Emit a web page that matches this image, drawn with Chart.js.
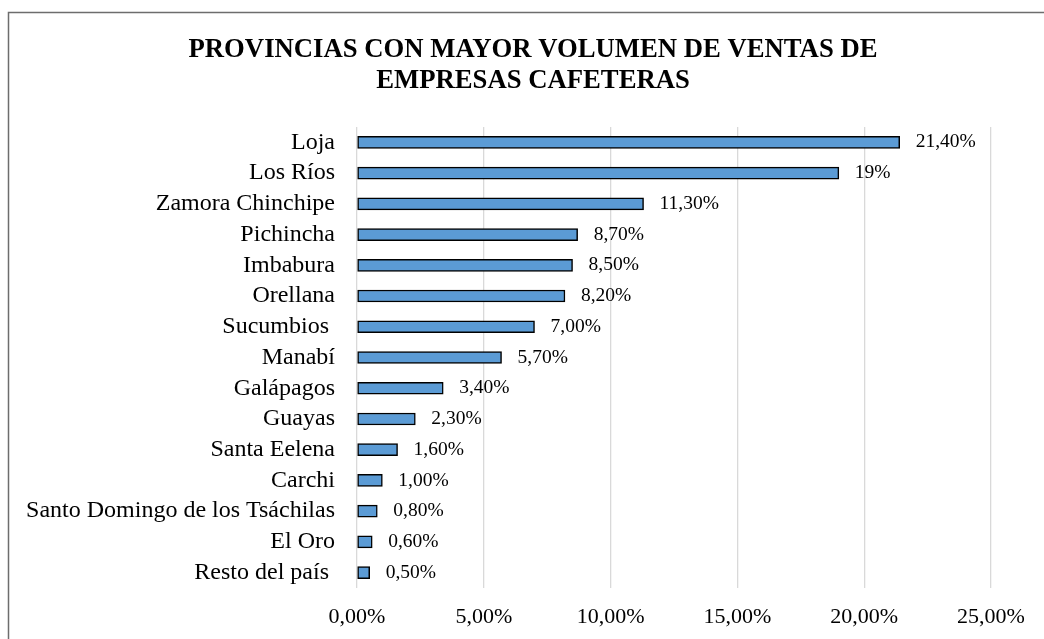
<!DOCTYPE html>
<html>
<head>
<meta charset="utf-8">
<script src="https://cdn.jsdelivr.net/npm/chart.js@4"></script>
<style>
  html, body { margin: 0; padding: 0; background: #fff; }
  canvas { display: block; }
</style>
</head>
<body>
<canvas id="myChart" width="1044" height="639"></canvas>
<script>
const provincias = ["Loja", "Los Ríos", "Zamora Chinchipe", "Pichincha", "Imbabura", "Orellana", "Sucumbios ",
  "Manabí", "Galápagos", "Guayas", "Santa Eelena", "Carchi", "Santo Domingo de los Tsáchilas", "El Oro", "Resto del país "];
const ventas = [21.4, 19, 11.3, 8.7, 8.5, 8.2, 7.0, 5.7, 3.4, 2.3, 1.6, 1.0, 0.8, 0.6, 0.5];
const etiquetas = ["21,40%", "19%", "11,30%", "8,70%", "8,50%", "8,20%", "7,00%", "5,70%", "3,40%", "2,30%",
  "1,60%", "1,00%", "0,80%", "0,60%", "0,50%"];
const titulo = ["PROVINCIAS CON MAYOR VOLUMEN DE VENTAS DE", "EMPRESAS CAFETERAS"];

const serif = "'Liberation Serif', 'Times New Roman', serif";

// fondo, marco y título
const marco = {
  id: "marco",
  beforeDraw(chart) {
    const ctx = chart.ctx;
    ctx.save();
    ctx.fillStyle = "#fff";
    ctx.fillRect(0, 0, chart.width, chart.height);
    ctx.strokeStyle = "#6d6d6d";
    ctx.lineWidth = 1.5;
    ctx.strokeRect(8.5, 12.5, 2000, 2000);
    ctx.restore();
  },
  afterDraw(chart) {
    const ctx = chart.ctx;
    ctx.save();
    ctx.fillStyle = "#000";
    ctx.font = "bold 26.7px " + serif;
    ctx.textAlign = "center";
    ctx.textBaseline = "alphabetic";
    ctx.fillText(titulo[0], 533, 57);
    ctx.fillText(titulo[1], 533, 88);
    ctx.restore();
  }
};

const valores = {
  id: "valores",
  afterDatasetsDraw(chart) {
    const ctx = chart.ctx;
    const meta = chart.getDatasetMeta(0);
    ctx.save();
    ctx.fillStyle = "#000";
    ctx.font = "19.5px " + serif;
    ctx.textBaseline = "middle";
    meta.data.forEach((bar, i) => {
      ctx.fillText(etiquetas[i], bar.x + 16, bar.y);
    });
    ctx.restore();
  }
};

new Chart("myChart", {
  type: "bar",
  data: {
    labels: provincias,
    datasets: [{
      data: ventas,
      backgroundColor: "#5B9BD5",
      borderColor: "#000",
      borderWidth: 1.5,
      borderSkipped: false,
      barThickness: 12
    }]
  },
  plugins: [marco, valores],
  options: {
    indexAxis: "y",
    responsive: false,
    animation: false,
    layout: { padding: { left: 0, right: 53, top: 127, bottom: 0 } },
    plugins: {
      legend: { display: false },
      title: { display: false },
      tooltip: { enabled: false }
    },
    scales: {
      x: {
        min: 0,
        max: 25,
        ticks: {
          stepSize: 5,
          color: "#000",
          padding: 16,
          font: { family: serif, size: 22 },
          callback: v => v.toFixed(2).replace(".", ",") + "%"
        },
        grid: { color: "#d9d9d9", lineWidth: 1.3, drawTicks: false },
        border: { display: false },
        afterFit(scale) { scale.height = 51; }
      },
      y: {
        ticks: {
          color: "#000",
          padding: 22,
          autoSkip: false,
          font: { family: serif, size: 24 }
        },
        grid: { display: false, drawTicks: false },
        border: { display: false },
        afterFit(scale) { scale.width = 357; }
      }
    }
  }
});
</script>
</body>
</html>
